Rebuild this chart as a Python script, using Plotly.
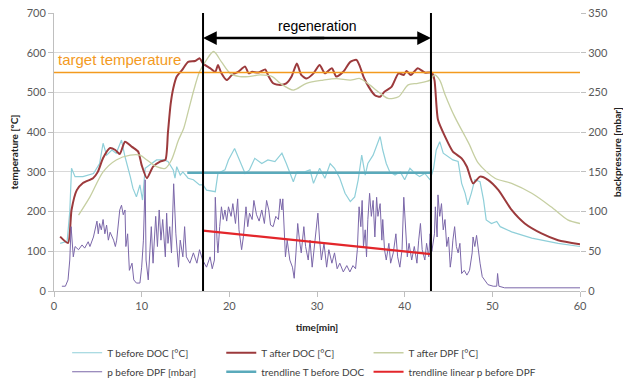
import plotly.graph_objects as go

# ---------------- data ----------------
# T before DOC [°C]
t_doc_in_x = [0.7, 1.5, 1.8, 2.0, 2.4, 3.3, 4.5, 5.2, 5.6, 6.0,
              6.6, 7.1, 7.7, 8.1, 8.7, 9.0, 9.4, 9.8, 10.1, 10.4,
              10.9, 11.7, 12.5, 13.0, 13.6, 13.8, 14.0, 14.4, 14.7, 15.3,
              15.9, 16.6, 17.0, 17.4, 18.4, 18.7, 19.5, 19.9, 20.6, 21.0,
              21.8, 22.3, 22.9, 23.7, 24.4, 25.2, 26.0, 26.5, 26.9, 27.3,
              27.7, 28.6, 29.2, 29.6, 30.3, 30.9, 31.5, 32.0, 32.6, 33.2,
              33.8, 34.3, 34.7, 35.1, 35.5, 35.8, 36.4, 36.8, 37.2, 37.5,
              37.9, 38.3, 38.9, 39.5, 40.0, 40.6, 41.2, 41.7, 42.3, 42.9,
              43.3, 43.6, 44.0, 44.4, 45.0, 45.5, 46.1, 46.5, 46.9, 47.2,
              47.6, 48.0, 48.6, 49.0, 49.3, 49.9, 50.5, 50.9, 52.2, 54.5,
              57.5, 60]
t_doc_in_y = [120, 125, 200, 309, 288, 288, 296, 321, 372, 342,
              355, 347, 380, 338, 288, 259, 237, 267, 229, 309,
              317, 330, 330, 326, 305, 284, 313, 292, 300, 284,
              280, 267, 267, 254, 250, 296, 305, 330, 359, 338,
              296, 305, 334, 321, 330, 326, 347, 321, 300, 275,
              300, 300, 305, 271, 309, 284, 321, 309, 284, 246,
              225, 237, 280, 342, 292, 321, 342, 368, 389, 355,
              321, 300, 292, 300, 280, 309, 296, 288, 296, 280,
              309, 355, 376, 347, 338, 330, 326, 271, 246, 217,
              246, 280, 275, 229, 179, 170, 175, 162, 149, 133,
              120, 112]

# T after DOC [°C]
t_doc_out_x = [0.7, 1.6, 2.0, 2.6, 3.3, 4.45, 5.0, 5.6, 6.4, 7.0,
               7.5, 8.1, 8.9, 9.6, 10.0, 10.6, 11.3, 12.1, 12.7, 13.0,
               13.3, 13.6, 14.0, 14.6, 15.3, 16.1, 16.6, 17.0, 17.8, 18.4,
               18.7, 19.1, 19.7, 20.3, 21.0, 21.8, 22.2, 22.6, 23.3, 24.1,
               24.4, 25.0, 25.8, 26.5, 27.1, 27.7, 28.2, 28.8, 29.6, 30.3,
               30.9, 31.7, 32.2, 33.0, 33.8, 34.5, 34.9, 35.3, 35.9, 36.6,
               37.2, 37.7, 38.5, 39.3, 39.9, 40.2, 40.7, 41.5, 42.3, 43.1,
               43.4, 43.8, 44.6, 45.5, 46.5, 47.1, 47.8, 48.6, 49.5, 50.7,
               52.2, 53.7, 55.6, 57.5, 60]
t_doc_out_y = [137, 121, 204, 254, 272, 284, 300, 335, 360, 355,
               345, 376, 363, 351, 317, 284, 313, 326, 330, 400,
               470, 510, 540, 556, 577, 579, 586, 573, 561, 552,
               569, 548, 531, 544, 552, 565, 548, 552, 550, 558,
               544, 523, 519, 523, 540, 573, 544, 535, 548, 569,
               548, 561, 540, 552, 577, 582, 565, 540, 514, 493,
               489, 502, 514, 548, 544, 554, 544, 561, 550, 550,
               531, 431, 389, 351, 334, 313, 271, 288, 280, 254,
               204, 170, 145, 128, 118]

# T after DPF [°C]
t_dpf_out_x = [2.8, 4.1, 5.6, 7.1, 8.7, 9.8, 10.6, 11.7, 12.7, 13.4,
               14.2, 14.8, 15.4, 16.0, 16.6, 17.4, 18.2, 19.1, 20.1, 21.2,
               22.2, 23.5, 24.9, 25.8, 27.3, 28.8, 30.7, 32.2, 33.8, 34.9,
               36.0, 37.2, 38.1, 39.3, 40.4, 41.5, 42.9, 43.4, 44.0, 44.6,
               45.7, 46.9, 47.4, 48.4, 50.3, 52.2, 54.5, 56.7, 58.6, 60]
t_dpf_out_y = [191, 237, 300, 330, 342, 342, 330, 313, 309, 330,
               380, 410, 460, 510, 552, 582, 603, 577, 548, 540,
               540, 544, 540, 523, 506, 523, 531, 535, 531, 535,
               519, 498, 485, 489, 519, 523, 531, 544, 531, 495,
               439, 389, 368, 322, 284, 271, 246, 212, 179, 170]

# p before DPF [mbar]
p_dpf_x = [0.9, 1.3, 1.6, 1.8, 1.95, 2.1, 2.2, 2.4, 2.8, 3.2, 3.5, 3.9, 4.1, 4.5, 4.9, 5.05, 5.2, 5.4, 5.6, 5.8,
           6.0, 6.2, 6.4, 6.8, 7.0, 7.15,
           7.5, 7.7, 7.9, 8.1, 8.2, 8.4, 8.6, 8.9, 9.1, 9.4, 9.8, 10.0, 10.2, 10.4, 10.5, 10.75, 10.9, 11.1,
           11.3, 11.6, 11.8, 12.0, 12.2, 12.4, 12.7, 12.85, 13.0,
           13.2, 13.4, 13.65, 13.9, 14.2, 14.4, 14.7, 14.9, 15.1, 15.5, 15.9, 16.3, 16.6, 16.95,
           17.4, 17.8, 18.05, 18.3, 18.4, 18.6, 18.7, 18.9, 19.1, 19.3, 19.5, 19.7, 19.9, 20.2,
           20.4, 20.7, 20.95, 21.1, 21.4, 21.6, 21.9, 22.1, 22.3, 22.6, 22.8, 23.1, 23.4, 23.7, 24.0,
           24.25, 24.5, 24.7, 25.0, 25.3, 25.6, 25.8, 26.0, 26.1, 26.3, 26.4, 26.6, 26.9, 27.2, 27.4,
           27.6, 27.8, 28.0, 28.2, 28.5, 28.7, 29.0, 29.2, 29.45, 29.7, 29.95, 30.1, 30.3,
           30.5, 30.8, 31.1, 31.35, 31.7, 32.0, 32.3, 32.6, 33.0, 33.4, 33.75, 34.1, 34.4, 34.6,
           34.8, 35.0, 35.15, 35.3, 35.5, 35.65, 35.8, 36.0, 36.2, 36.4, 36.6, 36.8, 36.95, 37.2,
           37.4, 37.5, 37.7, 37.9,
           38.2, 38.4, 38.7, 39.0, 39.2, 39.45, 39.7, 39.9, 40.1, 40.3, 40.5, 40.8, 41.1, 41.4,
           41.6, 41.8, 42.0, 42.3, 42.5, 42.75, 42.9, 43.1,
           43.4, 43.5, 43.7, 43.8, 44.0, 44.2, 44.4, 44.6, 44.8, 45.0, 45.2, 45.35, 45.5, 45.7,
           45.9, 46.1, 46.3,
           46.5, 46.8, 47.1, 47.4, 47.7, 47.8, 48.0, 48.2, 48.4, 48.6, 48.85, 49.1, 49.5, 50.1,
           50.5, 50.6, 50.75, 51.4, 60]
p_dpf_y = [6, 6, 14, 39, 81, 64, 43, 56, 52, 58, 54, 62, 56, 68, 88, 72, 85, 77, 90, 72,
           83, 64, 74, 64, 56, 64,
           102, 108, 96, 102, 56, 72, 26, 35, 14, 10, 10, 30, 64, 140, 39, 14, 43, 81,
           35, 94, 56, 102, 64, 90, 43, 98, 60,
           81, 48, 135, 72, 30, 64, 43, 81, 43, 35, 48, 35, 52, 39,
           30, 43, 28, 39, 118, 64, 48, 81, 106, 90, 102, 88, 106, 94,
           110, 85, 116, 77, 52, 68, 106, 81, 98, 90, 114, 96, 88, 102, 85,
           114, 102, 83, 81, 94, 90, 116, 102, 116, 60, 43, 64, 39, 30, 16,
           48, 85, 64, 48, 81, 56, 39, 64, 30, 56, 90, 98, 64,
           39, 60, 30, 52, 35, 48, 28, 35, 24, 32, 24, 32, 28, 52,
           106, 81, 114, 56, 77, 43, 90, 123, 94, 114, 68, 118, 94, 110,
           64, 90, 52, 39,
           60, 35, 48, 72, 43, 30, 52, 118, 81, 43, 60, 39, 56, 35,
           64, 85, 52, 39, 60, 43, 72, 50,
           72, 106, 68, 121, 94, 110, 77, 90, 56, 68, 30, 43, 64, 81,
           56, 48, 60,
           22, 26, 20, 26, 48, 68, 56, 70, 48, 35, 18, 14, 8, 6,
           6, 22, 6, 4, 4]

# trendlines
trend_t_x = [15.2, 43.0]
trend_t_y = [298, 298]
trend_p_x = [17.0, 43.0]
trend_p_y = [76, 46.5]

regen_start = 17
regen_end = 43
target_temp = 550

legend_names = ["T before DOC [°C]", "T after DOC [°C]", "T after DPF [°C]",
                "p before DPF [mbar]", "trendline T before DOC",
                "trendline linear p before DPF"]

assert len(t_doc_in_x) == len(t_doc_in_y)
assert len(t_doc_out_x) == len(t_doc_out_y)
assert len(t_dpf_out_x) == len(t_dpf_out_y)
assert len(p_dpf_x) == len(p_dpf_y), (len(p_dpf_x), len(p_dpf_y))

# ---------------- figure ----------------
FONT = "Lato"
GREY = "#595959"

fig = go.Figure()
fig.add_trace(go.Scatter(x=t_doc_in_x, y=t_doc_in_y, name=legend_names[0], mode="lines",
                         legend="legend",
                         line=dict(color="#8fcfd9", width=1.2)))
fig.add_trace(go.Scatter(x=t_doc_out_x, y=t_doc_out_y, name=legend_names[1], mode="lines",
                         legend="legend2",
                         line=dict(color="#9c3a3c", width=2, shape="spline", smoothing=0.6)))
fig.add_trace(go.Scatter(x=t_dpf_out_x, y=t_dpf_out_y, name=legend_names[2], mode="lines",
                         legend="legend3",
                         line=dict(color="#c6cfa2", width=1.3, shape="spline", smoothing=0.8)))
fig.add_trace(go.Scatter(x=p_dpf_x, y=p_dpf_y, name=legend_names[3], mode="lines", yaxis="y2",
                         legend="legend",
                         line=dict(color="#7b67a9", width=1)))
fig.add_trace(go.Scatter(x=trend_t_x, y=trend_t_y, name=legend_names[4], mode="lines",
                         legend="legend2",
                         line=dict(color="#5aaabb", width=2.5)))
fig.add_trace(go.Scatter(x=trend_p_x, y=trend_p_y, name=legend_names[5], mode="lines", yaxis="y2",
                         legend="legend3",
                         line=dict(color="#e3262b", width=2.2)))

# target temperature line
fig.add_shape(type="line", xref="paper", x0=0, x1=1, yref="y", y0=target_temp, y1=target_temp,
              line=dict(color="#f39a1e", width=1.5), layer="above")
# regeneration boundaries
for xv in (regen_start, regen_end):
    fig.add_shape(type="line", xref="x", x0=xv, x1=xv, yref="paper", y0=0, y1=1,
                  line=dict(color="black", width=2), layer="above")

mid = (regen_start + regen_end) / 2
for xv, tail in ((regen_start, mid + 1), (regen_end, mid - 1)):
    fig.add_annotation(x=xv, y=637, ax=tail, ay=637, xref="x", yref="y", axref="x", ayref="y",
                       text="", showarrow=True, arrowhead=2, arrowsize=1.1, arrowwidth=2.5,
                       arrowcolor="black", standoff=0, startstandoff=0)
fig.add_annotation(x=mid, y=668, xref="x", yref="y", text="regeneration", showarrow=False,
                   font=dict(family="Liberation Sans", size=14, color="black"))
fig.add_annotation(x=0.2, y=582, xref="x", yref="y", text="target temperature", showarrow=False,
                   xanchor="left", font=dict(family="Liberation Sans", size=15, color="#f39a1e"))

axis_common = dict(tickfont=dict(family=FONT, size=11, color=GREY), linecolor="#bfbfbf",
                   ticks="outside", ticklen=5, tickcolor="#bfbfbf", zeroline=False,
                   automargin=False)

legend_common = dict(orientation="v", xanchor="left", y=-0.17, yanchor="top",
                     font=dict(family=FONT, size=10, color="#404040"),
                     itemwidth=30, tracegroupgap=0, bgcolor="rgba(0,0,0,0)")

fig.update_layout(
    width=623, height=383,
    margin=dict(l=54, r=43, t=13, b=92, autoexpand=False),
    paper_bgcolor="white", plot_bgcolor="white",
    font=dict(family=FONT, color=GREY),
    xaxis=dict(range=[0, 60], dtick=10, showgrid=False, showline=True,
               title=dict(text="<b>time[min]</b>", font=dict(family=FONT, size=10, color="#222"),
                          standoff=12),
               **axis_common),
    yaxis=dict(range=[0, 700], dtick=100, showgrid=True, gridcolor="#d9d9d9", showline=True,
               title=dict(text="<b>temperature [°C]</b>", font=dict(family=FONT, size=10, color="#222"),
                          standoff=6),
               **axis_common),
    yaxis2=dict(range=[0, 350], dtick=50, overlaying="y", side="right", showgrid=False,
                showline=False,
                title=dict(text="<b>backpressure [mbar]</b>", font=dict(family=FONT, size=10, color="#222"),
                           standoff=16),
                **axis_common),
    showlegend=True,
    legend=dict(x=0.025, **legend_common),
    legend2=dict(x=0.318, **legend_common),
    legend3=dict(x=0.598, **legend_common),
)

fig.write_html("out.html")
